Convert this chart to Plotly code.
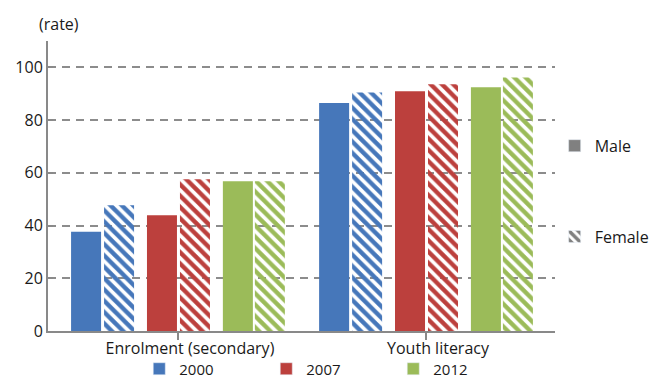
import plotly.graph_objects as go

categories = ["Enrolment (secondary)", "Youth literacy"]
years = ["2000", "2007", "2012"]
male_2000 = [37.6, 86.5]
female_2000 = [47.7, 90.5]
male_2007 = [43.9, 90.9]
female_2007 = [57.6, 93.6]
male_2012 = [56.8, 92.5]
female_2012 = [56.8, 96.2]
y_ticks = [0, 20, 40, 60, 80, 100]

colors = {"2000": "#4677BA", "2007": "#BC403D", "2012": "#9BBB59"}
male = {"2000": male_2000, "2007": male_2007, "2012": male_2012}
female = {"2000": female_2000, "2007": female_2007, "2012": female_2012}

FONT = "Open Sans"
FS = 16
W = 30 / 248
offsets = {"2000": (-0.431, -0.298), "2007": (-0.125, 0.008), "2012": (0.181, 0.310)}

fig = go.Figure()
for yr in years:
    om, of = offsets[yr]
    fig.add_trace(go.Bar(x=categories, y=male[yr], width=W, offset=om,
                         marker=dict(color=colors[yr], line=dict(width=0)),
                         showlegend=False, hoverinfo="skip"))
    fig.add_trace(go.Bar(x=categories, y=female[yr], width=W, offset=of,
                         marker=dict(color=colors[yr], line=dict(width=0),
                                     pattern=dict(shape="\\", size=8, solidity=0.55,
                                                  fillmode="replace")),
                         showlegend=False, hoverinfo="skip"))

# legend entries for years
for yr in years:
    fig.add_trace(go.Bar(x=[None], y=[None], name=yr, marker=dict(color=colors[yr]),
                         legend="legend", showlegend=True))
# legend entries for sex
fig.add_trace(go.Bar(x=[None], y=[None], name="Male", marker=dict(color="#808080"),
                     legend="legend2", legendgroup="m", showlegend=True))
fig.add_trace(go.Bar(x=[None], y=[None], name="Female",
                     marker=dict(color="#808080",
                                 pattern=dict(shape="\\", size=8, solidity=0.55, fillmode="replace")),
                     legend="legend2", legendgroup="f", showlegend=True))

fig.update_layout(
    width=651, height=381,
    margin=dict(l=48, r=96, t=41, b=50, autoexpand=False),
    paper_bgcolor="white", plot_bgcolor="white",
    font=dict(family=FONT, size=FS, color="#1a1a1a"),
    barmode="overlay",
    xaxis=dict(range=[-0.524, 1.52], showline=True, linecolor="#898989", linewidth=2,
               ticks="outside", ticklen=7, tickwidth=2, tickcolor="#898989",
               showgrid=False, ticklabelshift=12, ticklabelstandoff=-5, automargin=False),
    yaxis=dict(range=[0, 110], tickvals=y_ticks, showline=True, linecolor="#898989",
               linewidth=2, ticks="inside", ticklen=5, tickwidth=2, tickcolor="#898989",
               showgrid=True, gridcolor="#8c8c8c", gridwidth=2, griddash="8px,6px",
               zeroline=False, automargin=False),
    legend=dict(orientation="h", x=0.18, xref="paper", y=0.0315, yref="container",
                yanchor="middle", xanchor="left", entrywidth=82, font=dict(size=15),
                bgcolor="rgba(0,0,0,0)", itemclick=False),
    legend2=dict(orientation="v", x=0.852, xref="container", y=0.662, yref="container",
                 yanchor="top", xanchor="left", tracegroupgap=67,
                 bgcolor="rgba(0,0,0,0)"),
    annotations=[dict(text="(rate)", x=-0.022, y=1.0586, xref="paper", yref="paper",
                      xanchor="left", yanchor="middle", showarrow=False)],
)

fig.write_html("out.html")
